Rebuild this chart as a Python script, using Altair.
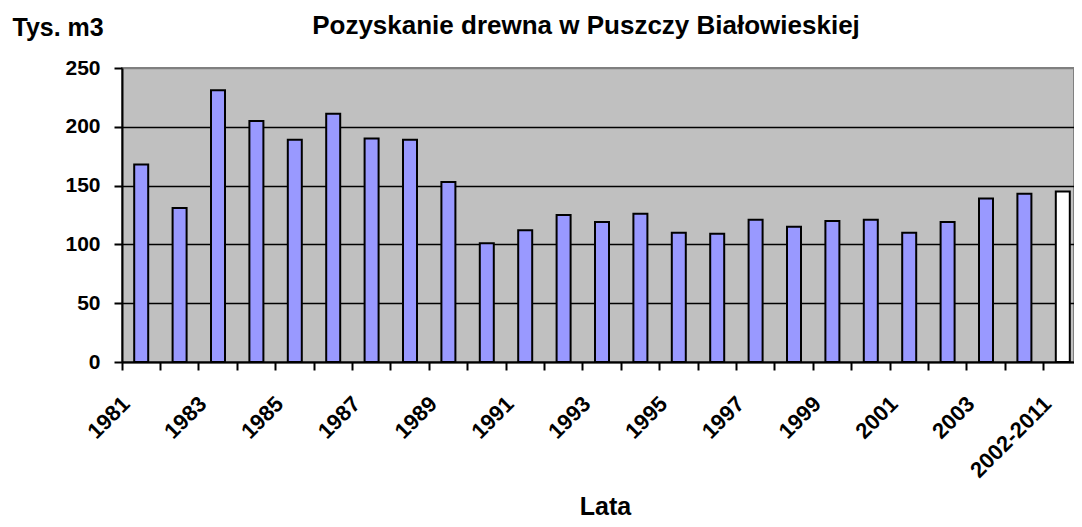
import altair as alt
import pandas as pd

# Categories (years) and values (thousand m3)
lata = [
    "1981", "1982", "1983", "1984", "1985", "1986", "1987", "1988", "1989",
    "1990", "1991", "1992", "1993", "1994", "1995", "1996", "1997", "1998",
    "1999", "2000", "2001", "2002", "2003", "2004", "2002-2011",
]
pozyskanie = [
    168, 131, 231, 205, 189, 211, 190, 189, 153,
    101, 112, 125, 119, 126, 110, 109, 121, 115,
    120, 121, 110, 119, 139, 143, 145,
]
rodzaj = ["roczne"] * 24 + ["średnia"]
y_ticks = [0, 50, 100, 150, 200, 250]

df = pd.DataFrame({"Lata": lata, "Pozyskanie": pozyskanie, "Rodzaj": rodzaj})

FONT = "Liberation Sans"

chart = (
    alt.Chart(df)
    .mark_bar(width=14, stroke="black", strokeWidth=2)
    .encode(
        x=alt.X(
            "Lata:N",
            sort=lata,
            scale=alt.Scale(paddingInner=0, paddingOuter=0, range=[0, 960]),
            axis=alt.Axis(
                title="Lata",
                bandPosition=0,
                labelAngle=-45,
                labelAlign="right",
                labelBaseline="middle",
                labelExpr="datum.label == '2002-2011' || toNumber(datum.label) % 2 == 1 ? datum.label : ''",
                labelOverlap=False,
                labelFont=FONT,
                labelFontSize=22,
                labelFontWeight="bold",
                labelColor="black",
                labelPadding=30,
                labelOffset=-15,
                tickSize=8,
                tickWidth=2,
                tickColor="black",
                domainColor="black",
                domainWidth=2,
                grid=False,
                titleFont=FONT,
                titleFontSize=25,
                titleFontWeight="bold",
                titleColor="black",
                titleX=483,
                titleY=152,
                titleBaseline="alphabetic",
            ),
        ),
        y=alt.Y(
            "Pozyskanie:Q",
            scale=alt.Scale(domain=[0, 250], nice=False),
            axis=alt.Axis(
                values=y_ticks,
                title="Tys. m3",
                titleAngle=0,
                titleAlign="left",
                titleX=-110,
                titleY=-33,
                titleBaseline="alphabetic",
                titleFont=FONT,
                titleFontSize=25,
                titleFontWeight="bold",
                titleColor="black",
                labelFont=FONT,
                labelFontSize=21,
                labelFontWeight="bold",
                labelColor="black",
                labelPadding=14,
                tickSize=8,
                tickWidth=2,
                tickColor="black",
                domainColor="black",
                domainWidth=2,
                gridColor={"condition": {"test": "datum.value == 250", "value": "#808080"}, "value": "black"},
                gridWidth=1.5,
                gridOpacity=1,
            ),
        ),
        color=alt.Color(
            "Rodzaj:N",
            scale=alt.Scale(domain=["roczne", "średnia"], range=["#9999FF", "#FFFFFF"]),
            legend=None,
        ),
    )
    .properties(
        width=952,
        height=294,
        title=alt.TitleParams(
            "Pozyskanie drewna w Puszczy Białowieskiej",
            font=FONT,
            fontSize=26,
            fontWeight="bold",
            color="black",
            anchor="middle",
            dx=-12,
            dy=28,
        ),
        padding={"left": 114, "top": 60, "right": 0, "bottom": 157},
        autosize=alt.AutoSizeParams(type="none"),
    )
    .configure_view(fill="#C0C0C0", stroke="#808080", strokeWidth=2)
)

chart.save("out.html", embed_options={"renderer": "svg", "actions": False})
